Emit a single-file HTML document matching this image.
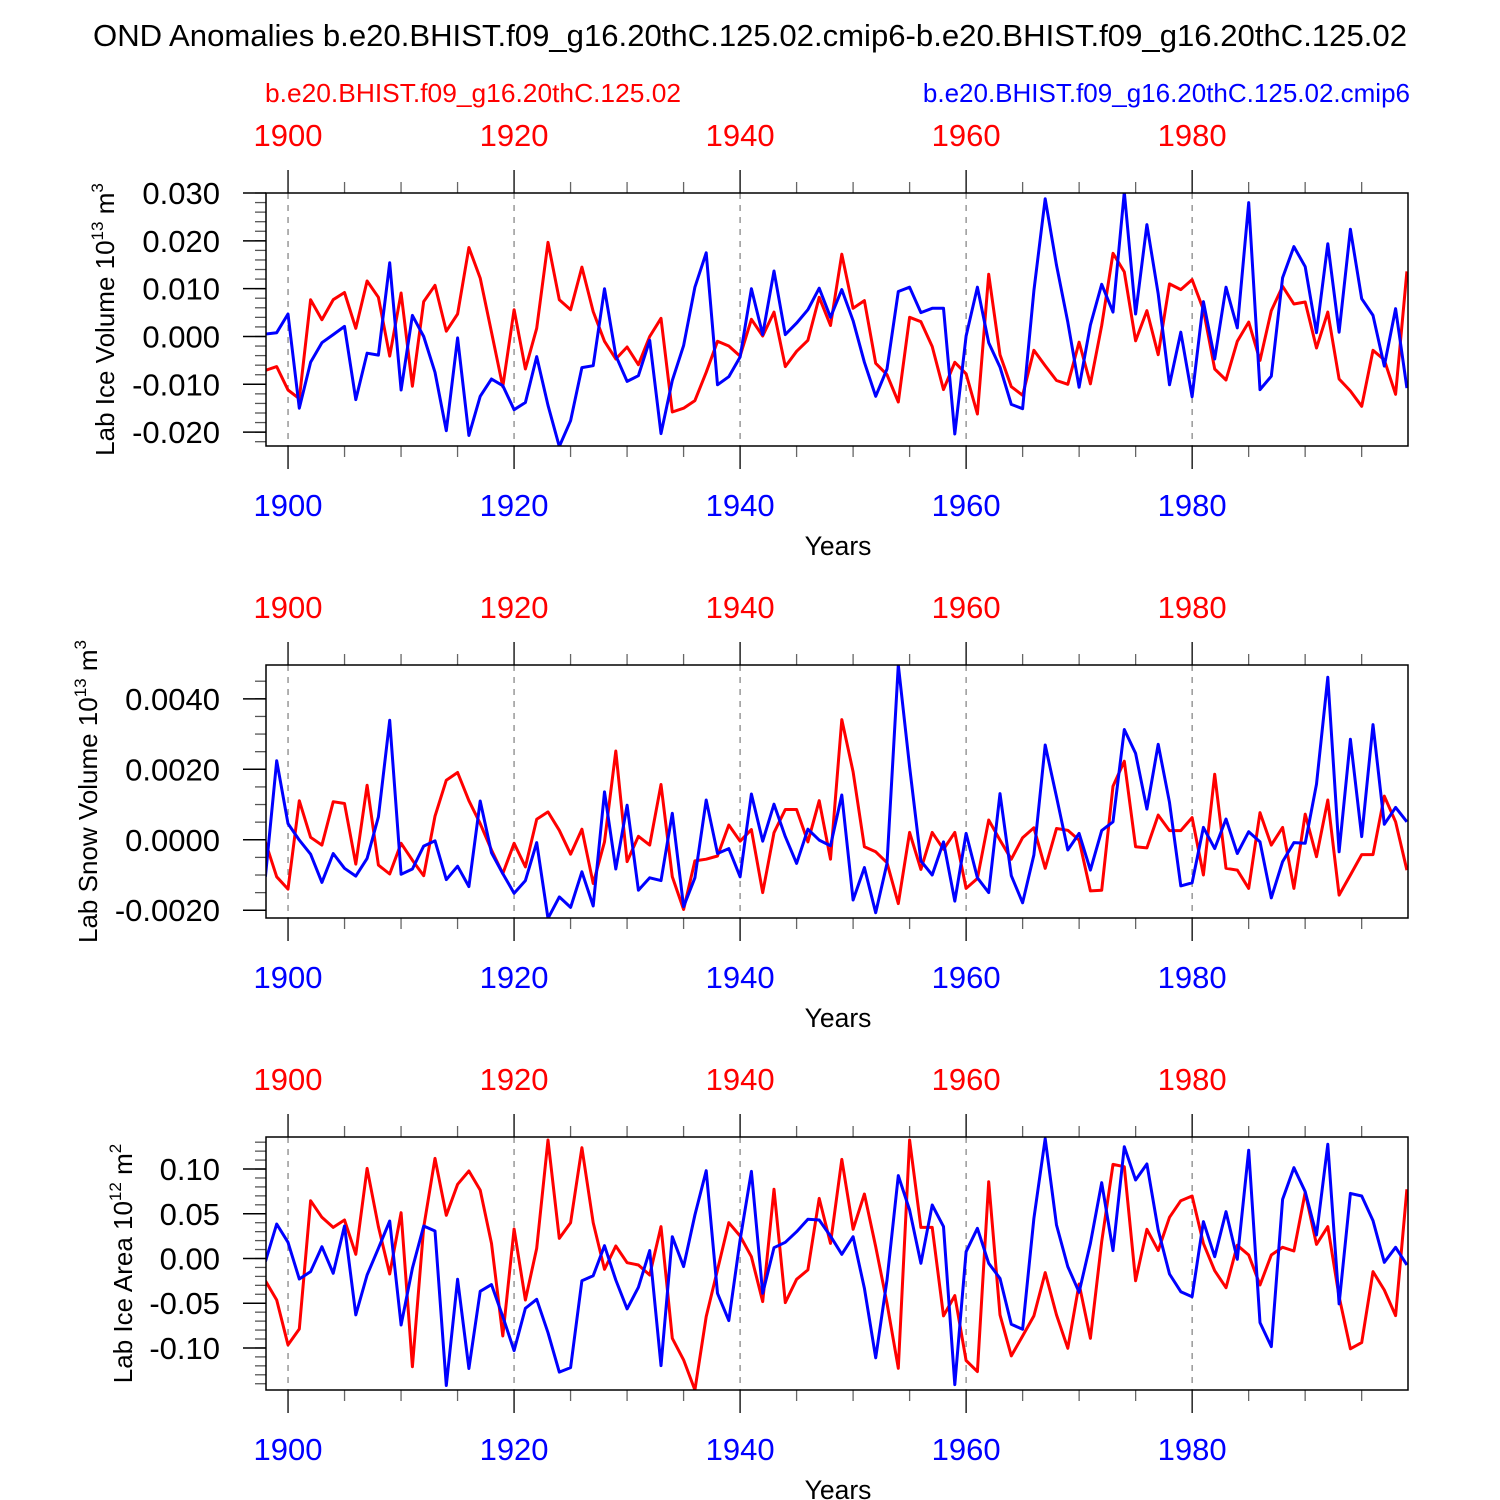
<!DOCTYPE html>
<html><head><meta charset="utf-8"><style>
html,body{margin:0;padding:0;background:#fff;}
svg{display:block;font-family:"Liberation Sans",Arial,sans-serif;}
</style></head><body>
<svg id="chart" width="1500" height="1500" viewBox="0 0 1500 1500" xmlns="http://www.w3.org/2000/svg">
<text x="750" y="46" text-anchor="middle" font-size="30.5" textLength="1314" lengthAdjust="spacingAndGlyphs">OND Anomalies b.e20.BHIST.f09_g16.20thC.125.02.cmip6-b.e20.BHIST.f09_g16.20thC.125.02</text>
<text x="265" y="102" font-size="26" textLength="416" lengthAdjust="spacingAndGlyphs" fill="#ff0000">b.e20.BHIST.f09_g16.20thC.125.02</text>
<text x="1410" y="102" text-anchor="end" font-size="26" fill="#0000ff">b.e20.BHIST.f09_g16.20thC.125.02.cmip6</text>
</svg>
<script>
// Data (years 1898..1999)
const years = []; for (let y = 1898; y <= 1999; y++) years.push(y);
const xTicks = [1900, 1920, 1940, 1960, 1980];

const iceVolBlue = [0.0005,0.0008,0.0047,-0.015,-0.0054,-0.0013,0.0004,0.0021,-0.0132,-0.0035,-0.0039,0.0154,-0.0112,0.0044,0.0,-0.0075,-0.0197,-0.0003,-0.0207,-0.0125,-0.0089,-0.0103,-0.0153,-0.0138,-0.0042,-0.0144,-0.023,-0.0176,-0.0065,-0.0061,0.0100,-0.004,-0.0094,-0.0082,-0.0008,-0.0203,-0.0092,-0.0019,0.0103,0.0175,-0.0101,-0.0084,-0.0043,0.0100,0.0004,0.0137,0.0004,0.0028,0.0056,0.0101,0.004,0.0098,0.0033,-0.0054,-0.0125,-0.0068,0.0094,0.0103,0.005,0.0059,0.0059,-0.0204,0.0001,0.0103,-0.0013,-0.0064,-0.0142,-0.0151,0.0096,0.0288,0.0149,0.003,-0.0106,0.0024,0.0109,0.0051,0.0302,0.0047,0.0234,0.0089,-0.0101,0.0009,-0.0126,0.0073,-0.0047,0.0103,0.0018,0.028,-0.0111,-0.0083,0.0123,0.0188,0.0146,0.0008,0.0194,0.0009,0.0224,0.0079,0.0044,-0.0062,0.0058,-0.0108];
const iceVolRed = [-0.0071,-0.0063,-0.0112,-0.013,0.0077,0.0035,0.0077,0.0092,0.0017,0.0116,0.0082,-0.0041,0.0091,-0.0104,0.0073,0.0107,0.0011,0.0047,0.0186,0.0122,0.0009,-0.0105,0.0056,-0.0068,0.0017,0.0197,0.0077,0.0056,0.0145,0.0052,-0.001,-0.0047,-0.0022,-0.0059,0.0,0.0038,-0.0158,-0.015,-0.0134,-0.0075,-0.001,-0.002,-0.0041,0.0036,0.0001,0.0051,-0.0063,-0.0031,-0.0008,0.0082,0.0023,0.0172,0.0059,0.0075,-0.0056,-0.008,-0.0137,0.004,0.0031,-0.0021,-0.0111,-0.0054,-0.0078,-0.0162,0.013,-0.0038,-0.0105,-0.0123,-0.0029,-0.0061,-0.0092,-0.01,-0.0012,-0.0099,0.0023,0.0174,0.0135,-0.0009,0.0054,-0.0038,0.011,0.0098,0.0119,0.0056,-0.0068,-0.0091,-0.001,0.003,-0.005,0.0054,0.0105,0.0068,0.0072,-0.0024,0.0051,-0.0089,-0.0114,-0.0146,-0.0029,-0.0049,-0.0121,0.0136];

const snowBlue = [-1.05,2.24,0.46,-0.01,-0.41,-1.21,-0.39,-0.81,-1.03,-0.53,0.65,3.39,-0.98,-0.83,-0.18,-0.03,-1.13,-0.75,-1.33,1.10,-0.37,-0.96,-1.52,-1.16,-0.08,-2.23,-1.62,-1.92,-0.91,-1.88,1.36,-0.83,0.98,-1.43,-1.08,-1.16,0.75,-1.90,-1.08,1.13,-0.39,-0.25,-1.05,1.30,-0.04,1.01,0.09,-0.67,0.30,-0.01,-0.17,1.27,-1.71,-0.79,-2.07,-0.67,4.96,2.07,-0.60,-1.00,-0.06,-1.74,0.18,-1.08,-1.50,1.31,-1.02,-1.79,-0.43,2.69,1.22,-0.29,0.18,-0.86,0.26,0.51,3.13,2.45,0.87,2.71,1.06,-1.31,-1.22,0.35,-0.25,0.59,-0.39,0.23,-0.06,-1.65,-0.62,-0.08,-0.10,1.58,4.61,-0.34,2.85,0.09,3.27,0.44,0.92,0.51];
const snowRed = [-0.06,-1.05,-1.40,1.11,0.07,-0.15,1.08,1.03,-0.69,1.55,-0.72,-0.97,-0.10,-0.58,-1.02,0.67,1.69,1.91,1.11,0.46,-0.29,-0.96,-0.10,-0.77,0.58,0.79,0.27,-0.41,0.30,-1.24,-0.06,2.52,-0.62,0.10,-0.15,1.57,-1.05,-1.98,-0.60,-0.55,-0.46,0.42,-0.04,0.29,-1.50,0.20,0.86,0.86,-0.06,1.11,-0.55,3.41,1.93,-0.20,-0.34,-0.65,-1.81,0.21,-0.84,0.21,-0.27,0.21,-1.38,-1.10,0.56,-0.01,-0.55,0.06,0.34,-0.81,0.32,0.27,-0.01,-1.45,-1.43,1.52,2.23,-0.20,-0.23,0.70,0.26,0.26,0.63,-1.00,1.86,-0.81,-0.86,-1.38,0.77,-0.15,0.35,-1.38,0.73,-0.48,1.13,-1.57,-1.00,-0.42,-0.42,1.24,0.51,-0.86];

const areaBlue = [-0.35,3.85,1.81,-2.29,-1.47,1.32,-1.66,3.63,-6.31,-1.84,1.14,4.19,-7.43,-1.10,3.63,3.07,-14.2,-2.33,-12.3,-3.67,-2.92,-6.50,-10.3,-5.57,-4.56,-8.29,-12.7,-12.2,-2.48,-1.92,1.43,-2.40,-5.64,-3.22,0.88,-11.97,2.44,-0.91,4.86,9.81,-3.89,-6.94,2.07,9.74,-3.89,1.21,1.81,3.00,4.38,4.30,2.5,0.47,2.44,-3.33,-11.1,-2.40,9.26,5.42,-0.54,5.98,3.56,-14.1,0.76,3.37,-0.54,-2.22,-7.36,-7.91,4.49,13.4,3.74,-0.91,-3.78,1.69,8.47,0.88,12.5,8.77,10.56,3.18,-1.73,-3.71,-4.27,4.12,0.20,5.23,-0.09,12.1,-7.17,-9.85,6.61,10.15,7.47,2.63,12.76,-5.08,7.28,6.98,4.23,-0.43,1.25,-0.73];
const areaRed = [-2.48,-4.64,-9.66,-7.88,6.46,4.60,3.48,4.30,0.47,10.07,3.56,-1.73,5.12,-12.1,3.5,11.19,4.83,8.29,9.78,7.65,1.69,-8.66,3.30,-4.64,1.14,13.24,2.25,4.00,12.38,4.00,-1.21,1.40,-0.47,-0.73,-1.84,3.56,-8.92,-11.34,-14.7,-6.50,-1.28,4.00,2.51,0.20,-4.82,7.73,-4.93,-2.33,-1.28,6.72,1.69,11.08,3.26,7.21,1.32,-5.01,-12.27,13.24,3.48,3.48,-6.42,-4.15,-11.4,-12.64,8.58,-6.31,-10.89,-8.66,-6.42,-1.58,-6.31,-10.04,-2.85,-8.92,1.88,10.52,10.26,-2.48,3.26,0.88,4.60,6.46,6.98,1.69,-1.36,-3.26,1.47,0.39,-2.96,0.39,1.25,0.84,7.39,1.58,3.56,-4.27,-10.1,-9.40,-1.47,-3.52,-6.38,7.73];

const p1Ticks = [0.030,0.020,0.010,0.000,-0.010,-0.020];
const p1Labels = ["0.030","0.020","0.010","0.000","-0.010","-0.020"];
const p2Ticks = [0.004,0.002,0.0,-0.002];
const p2Labels = ["0.0040","0.0020","0.0000","-0.0020"];
const p3Ticks = [0.10,0.05,0.0,-0.05,-0.10];
const p3Labels = ["0.10","0.05","0.00","-0.05","-0.10"];

const NS = "http://www.w3.org/2000/svg";
const svg = document.getElementById('chart');
function mk(tag, attrs, parent) {
  const e = document.createElementNS(NS, tag);
  for (const k in attrs) e.setAttribute(k, attrs[k]);
  (parent || svg).appendChild(e);
  return e;
}
const X0 = 266, X1 = 1408, XMIN = 1898.05, XMAX = 1999.1;
function xs(yr) { return X0 + (yr - XMIN) / (XMAX - XMIN) * (X1 - X0); }

const panels = [
  {top:193, bot:446, ymin:-0.0229, ymax:0.030, blue:iceVolBlue, red:iceVolRed, scale:1, ticks:p1Ticks, labels:p1Labels, minor:0.002, title:["Lab Ice Volume 10","13"," m","3"], tx:114, name:'ice-volume'},
  {top:665, bot:918, ymin:-0.00222, ymax:0.00496, blue:snowBlue, red:snowRed, scale:0.001, ticks:p2Ticks, labels:p2Labels, minor:0.0005, title:["Lab Snow Volume 10","13"," m","3"], tx:97, name:'snow-volume'},
  {top:1137, bot:1390, ymin:-0.147, ymax:0.1358, blue:areaBlue, red:areaRed, scale:0.01, ticks:p3Ticks, labels:p3Labels, minor:0.01, title:["Lab Ice Area 10","12"," m","2"], tx:132, name:'ice-area'}
];

panels.forEach((p, pi) => {
  const g = mk('g', {});
  
  
  const ys = v => p.bot - (v - p.ymin) / (p.ymax - p.ymin) * (p.bot - p.top);
  xTicks.forEach(t => {
    const l = mk('line', {x1:xs(t), x2:xs(t), y1:p.top, y2:p.bot, stroke:'#888', 'stroke-width':1.3, 'stroke-dasharray':'6,6'}, g);
    
    
  });
  for (let yr = 1900; yr <= 1995; yr += 5) {
    const major = yr % 20 === 0;
    const len = major ? 23 : 11;
    mk('line', {x1:xs(yr), x2:xs(yr), y1:p.top, y2:p.top - len, stroke:major ? '#000' : '#666', 'stroke-width':1.3}, g);
    mk('line', {x1:xs(yr), x2:xs(yr), y1:p.bot, y2:p.bot + len, stroke:major ? '#000' : '#666', 'stroke-width':1.3}, g);
  }
  const n0 = Math.ceil(p.ymin / p.minor - 1e-6), n1 = Math.floor(p.ymax / p.minor + 1e-6);
  for (let n = n0; n <= n1; n++) {
    const y = ys(n * p.minor);
    mk('line', {x1:X0, x2:X0 - 11, y1:y, y2:y, stroke:'#555', 'stroke-width':1.3}, g);
  }
  p.ticks.forEach((t, i) => {
    const y = ys(t);
    mk('line', {x1:X0, x2:X0 - 23, y1:y, y2:y, stroke:'#000', 'stroke-width':1.5}, g);
    const tl = mk('text', {x:220, y:y + 11, 'text-anchor':'end', 'font-size':31}, g);
    tl.textContent = p.labels[i];
    
    
  });
  xTicks.forEach(t => {
    const a = mk('text', {x:xs(t), y:p.top - 47, 'text-anchor':'middle', 'font-size':31, fill:'#ff0000'}, g);
    a.textContent = t;
    
    
    const b = mk('text', {x:xs(t), y:p.bot + 70, 'text-anchor':'middle', 'font-size':31, fill:'#0000ff'}, g);
    b.textContent = t;
    
    
  });
  const xt = mk('text', {x:838, y:p.bot + 109, 'text-anchor':'middle', 'font-size':26.5}, g);
  xt.textContent = 'Years';
  
  
  const cy = (p.top + p.bot) / 2;
  const yt = mk('text', {x:0, y:0, 'text-anchor':'middle', 'font-size':26, transform:`translate(${p.tx},${cy}) rotate(-90)`}, g);
  
  
  const parts = p.title;
  const s1 = mk('tspan', {}, yt); s1.textContent = parts[0];
  const s2 = mk('tspan', {'font-size':17, dy:-11}, yt); s2.textContent = parts[1];
  const s3 = mk('tspan', {dy:11}, yt); s3.textContent = parts[2];
  const s4 = mk('tspan', {'font-size':17, dy:-11}, yt); s4.textContent = parts[3];
  const cid = 'clip' + pi;
  const cp = mk('clipPath', {id:cid}, g);
  mk('rect', {x:X0, y:p.top, width:X1 - X0, height:p.bot - p.top}, cp);
  [['red', p.red, '#ff0000'], ['blue', p.blue, '#0000ff']].forEach(([nm, arr, col]) => {
    const d = arr.map((v, i) => (i ? 'L' : 'M') + xs(years[i]).toFixed(1) + ',' + ys(v * p.scale).toFixed(1)).join(' ');
    const path = mk('path', {d:d, fill:'none', stroke:col, 'stroke-width':3, 'stroke-linejoin':'round', 'clip-path':`url(#${cid})`}, g);
    
    
  });
  const fr = mk('rect', {x:X0, y:p.top, width:X1 - X0, height:p.bot - p.top, fill:'none', stroke:'#000', 'stroke-width':1.5}, g);
  
  
});
</script>
</body></html>
